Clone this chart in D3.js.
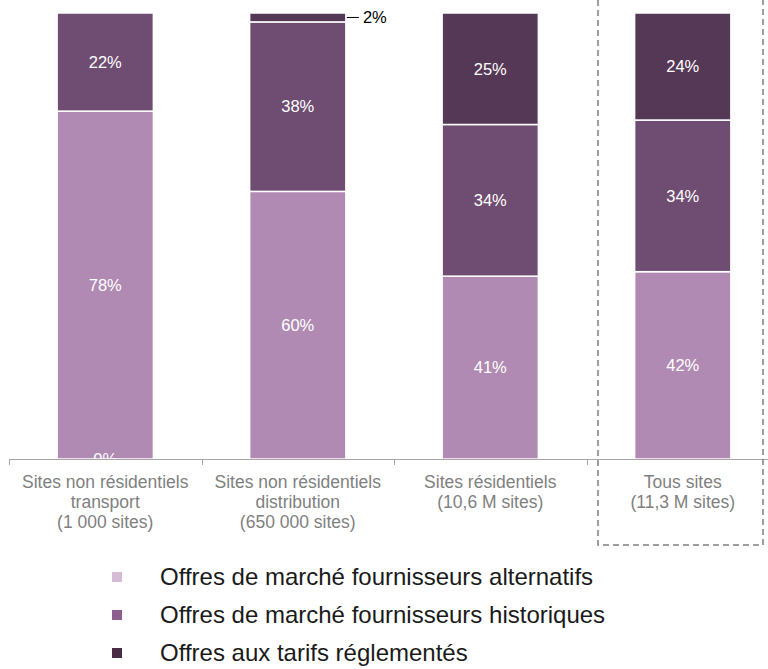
<!DOCTYPE html>
<html><head><meta charset="utf-8">
<script src="https://cdn.jsdelivr.net/npm/d3@7"></script>
<style>body{margin:0;background:#fff}svg{display:block}</style>
</head><body>
<script>
const categories = [
  ["Sites non résidentiels","transport","(1 000 sites)"],
  ["Sites non résidentiels","distribution","(650 000 sites)"],
  ["Sites résidentiels","(10,6 M sites)"],
  ["Tous sites","(11,3 M sites)"]
];
const seriesNames = ["Offres de marché fournisseurs alternatifs","Offres de marché fournisseurs historiques","Offres aux tarifs réglementés"];
const alternatifs = [78, 60, 41, 42];
const historiques = [22, 38, 34, 34];
const reglementes = [0, 2, 25, 24];
const barColors = ["#b08ab2", "#6f4c71", "#553856"];
const legendColors = ["#d5bcd6", "#8e5f8e", "#4a2c47"];

const W = 768, H = 669;
const svg = d3.select("body").append("svg").attr("width", W).attr("height", H);
const font = "'Liberation Sans',Arial,sans-serif";

const keys = categories.map((c,i)=>i);
const x = d3.scaleBand().domain(keys).range([9, 779]).paddingInner(0.5).paddingOuter(0.25);
const y = d3.scaleLinear().domain([0, 100]).range([459, 13]);

const rows = keys.map(i => ({i, a: alternatifs[i], h: historiques[i], r: reglementes[i]}));
const stack = d3.stack().keys(["a","h","r"])(rows);

svg.append("clipPath").attr("id","plot").append("rect").attr("x",0).attr("y",0).attr("width",W).attr("height",459);

const g = svg.append("g").attr("clip-path","url(#plot)");
stack.forEach((layer, li) => {
  g.selectAll(null).data(layer).join("rect")
    .attr("x", d => x(d.data.i))
    .attr("width", x.bandwidth())
    .attr("y", d => y(d[1]))
    .attr("height", d => y(d[0]) - y(d[1]))
    .attr("fill", barColors[li])
    .attr("stroke", "#fff").attr("stroke-width", 1.5);
});
// labels inside (zero values sit on the baseline, as in the original)
stack.forEach((layer, li) => {
  g.selectAll(null).data(layer.filter(d => (d[1]-d[0]) >= 5 || (d[1]-d[0]) === 0)).join("text")
    .attr("x", d => x(d.data.i) + x.bandwidth()/2)
    .attr("y", d => (d[1]-d[0]) === 0 ? y(0) : (y(d[0]) + y(d[1]))/2)
    .attr("dy", "0.35em")
    .attr("text-anchor", "middle")
    .attr("fill", "#fff")
    .attr("font-family", font)
    .attr("font-size", 16.5)
    .text(d => (d[1]-d[0]) + "%");
});
// small outside label
stack[2].filter(d => (d[1]-d[0]) > 0 && (d[1]-d[0]) < 5).forEach(d => {
  const yy = (y(d[0]) + y(d[1]))/2;
  const xr = x(d.data.i) + x.bandwidth();
  svg.append("line").attr("x1", xr + 1).attr("x2", xr + 13).attr("y1", yy).attr("y2", yy)
    .attr("stroke", "#000").attr("stroke-width", 1);
  svg.append("text").attr("x", xr + 17).attr("y", yy).attr("dy", "0.35em")
    .attr("font-family", font).attr("font-size", 16.5)
    .attr("fill", "#000").text((d[1]-d[0]) + "%");
});

// axis
const ax = svg.append("g");
ax.append("line").attr("x1", 9).attr("x2", 768).attr("y1", 459.5).attr("y2", 459.5)
  .attr("stroke", "#a6a6a6").attr("stroke-width", 1.2);
keys.forEach(i => {
  const xt = Math.round(x(i) + x.bandwidth()/2 - x.step()/2) + 0.5;
  ax.append("line").attr("x1", xt).attr("x2", xt).attr("y1", 459).attr("y2", 465)
    .attr("stroke", "#a6a6a6");
  const t = ax.append("text").attr("text-anchor","middle")
    .attr("font-family", font).attr("font-size", 17.5).attr("fill", "#7f7f7f");
  categories[i].forEach((line, k) => {
    t.append("tspan").attr("x", x(i) + x.bandwidth()/2).attr("y", 488 + k*20).text(line);
  });
});

// dashed box
svg.append("path").attr("d", "M598,0 L598,545 L763,545 L763,0")
  .attr("fill","none").attr("stroke","#7f7f7f").attr("stroke-width",1.5).attr("stroke-dasharray","6,4");

// legend
const leg = svg.append("g");
seriesNames.forEach((n, k) => {
  const base = 585 + k*38;
  leg.append("rect").attr("x", 112).attr("y", base - 13).attr("width", 10).attr("height", 10).attr("fill", legendColors[k]);
  leg.append("text").attr("x", 160).attr("y", base)
    .attr("font-family", font).attr("font-size", 24).attr("fill", "#1a1a1a").text(n);
});
</script>
</body></html>
